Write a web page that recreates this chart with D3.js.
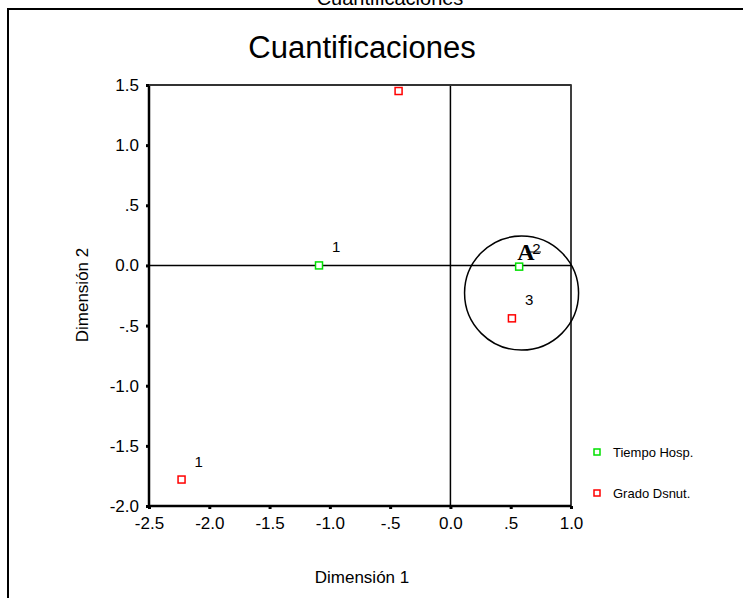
<!DOCTYPE html>
<html>
<head>
<meta charset="utf-8">
<script src="https://cdn.jsdelivr.net/npm/d3@7"></script>
<style>
    body { margin: 0; background: #fff; }
    svg { display: block; font-family: "Liberation Sans", Arial, sans-serif; }
    .axis path { display: none; }
</style>
</head>
<body>
<svg class="chart" width="743" height="598"></svg>
<script>
var dim1Ticks = [-2.5, -2.0, -1.5, -1.0, -0.5, 0.0, 0.5, 1.0];
var dim2Ticks = [-2.0, -1.5, -1.0, -0.5, 0.0, 0.5, 1.0, 1.5];

var seriesNames = ["Tiempo Hosp.", "Grado Dsnut."];
var seriesColors = ["#00e000", "#ff0000"];

// category quantifications, one list per variable
var tiempoHospLabels = ["1", "2"];
var tiempoHospDim1 = [-1.09, 0.57];
var tiempoHospDim2 = [0.0, -0.01];

var gradoDsnutLabels = ["1", "", "3"];
var gradoDsnutDim1 = [-2.23, -0.43, 0.51];
var gradoDsnutDim2 = [-1.78, 1.45, -0.44];

function makePoints(labels, d1, d2, series) {
    return labels.map(function (lab, i) {
        return { label: lab, d1: d1[i], d2: d2[i], series: series };
    });
}

var points = makePoints(tiempoHospLabels, tiempoHospDim1, tiempoHospDim2, 0)
    .concat(makePoints(gradoDsnutLabels, gradoDsnutDim1, gradoDsnutDim2, 1));

var svg = d3.select("svg.chart");

var xScale = d3.scaleLinear().domain([-2.5, 1.0]).range([149, 571]);
var yScale = d3.scaleLinear().domain([-2.0, 1.5]).range([506, 85]);

function fmtTick(d) {
    var s = Math.abs(d).toFixed(1);
    if (d !== 0 && Math.abs(d) < 1) {
        s = s.replace("0.", ".");
    }
    return (d < 0 ? "-" : "") + s;
}

// outer frame
svg.append("rect")
    .attr("x", 8).attr("y", 9)
    .attr("width", 760).attr("height", 620)
    .attr("fill", "none")
    .attr("stroke", "#000")
    .attr("stroke-width", 2);

// clipped page title above frame
svg.append("text")
    .attr("x", 390).attr("y", 5)
    .attr("text-anchor", "middle")
    .attr("font-size", 20)
    .text("Cuantificaciones");

svg.append("text")
    .attr("x", 362).attr("y", 58)
    .attr("text-anchor", "middle")
    .attr("font-size", 31)
    .text("Cuantificaciones");

// reference lines through origin
svg.append("line")
    .attr("x1", xScale(0)).attr("x2", xScale(0))
    .attr("y1", yScale(1.5)).attr("y2", yScale(-2.0))
    .attr("stroke", "#000").attr("stroke-width", 1.5);
svg.append("line")
    .attr("x1", xScale(-2.5)).attr("x2", xScale(1.0))
    .attr("y1", yScale(0)).attr("y2", yScale(0))
    .attr("stroke", "#000").attr("stroke-width", 1.5);

// plot frame
svg.append("rect")
    .attr("x", xScale(-2.5)).attr("y", yScale(1.5))
    .attr("width", xScale(1.0) - xScale(-2.5))
    .attr("height", yScale(-2.0) - yScale(1.5))
    .attr("fill", "none")
    .attr("stroke", "#000")
    .attr("stroke-width", 1.5);
svg.append("line")
    .attr("x1", xScale(-2.5)).attr("x2", xScale(-2.5))
    .attr("y1", yScale(1.5)).attr("y2", yScale(-2.0))
    .attr("stroke", "#000").attr("stroke-width", 2.5);
svg.append("line")
    .attr("x1", xScale(-2.5)).attr("x2", xScale(1.0))
    .attr("y1", yScale(-2.0)).attr("y2", yScale(-2.0))
    .attr("stroke", "#000").attr("stroke-width", 2.5);
svg.append("line")
    .attr("x1", xScale(-2.5)).attr("x2", xScale(1.0))
    .attr("y1", yScale(1.5)).attr("y2", yScale(1.5))
    .attr("stroke", "#333").attr("stroke-width", 2);

var yAxis = svg.append("g")
    .attr("class", "axis")
    .attr("transform", "translate(" + xScale(-2.5) + ",0)")
    .call(d3.axisLeft(yScale).tickValues(dim2Ticks).tickFormat(fmtTick).tickSize(3).tickPadding(7));

var xAxis = svg.append("g")
    .attr("class", "axis")
    .attr("transform", "translate(0," + yScale(-2.0) + ")")
    .call(d3.axisBottom(xScale).tickValues(dim1Ticks).tickFormat(fmtTick).tickSize(3).tickPadding(8));

[yAxis, xAxis].forEach(function (ax) {
    ax.attr("font-family", null).attr("font-size", null);
    ax.selectAll("line").attr("stroke", "#000").attr("stroke-width", 3);
    ax.selectAll("text")
        .attr("font-family", "Liberation Sans, Arial, sans-serif")
        .attr("font-size", 17)
        .attr("fill", "#000");
});

// axis titles
svg.append("text")
    .attr("x", 362).attr("y", 583)
    .attr("text-anchor", "middle")
    .attr("font-size", 17)
    .text("Dimensión 1");
svg.append("text")
    .attr("transform", "translate(88,295) rotate(-90)")
    .attr("text-anchor", "middle")
    .attr("font-size", 17)
    .text("Dimensión 2");

// annotation circle
svg.append("circle")
    .attr("cx", xScale(0.59)).attr("cy", yScale(-0.23))
    .attr("r", 57)
    .attr("fill", "none")
    .attr("stroke", "#000")
    .attr("stroke-width", 1.5);

// category points
svg.selectAll("rect.pt")
    .data(points)
    .enter()
    .append("rect")
    .classed("pt", true)
    .attr("x", function (d) { return xScale(d.d1) - 3.5; })
    .attr("y", function (d) { return yScale(d.d2) - 3.5; })
    .attr("width", 7).attr("height", 7)
    .attr("fill", "#fff")
    .attr("stroke", function (d) { return seriesColors[d.series]; })
    .attr("stroke-width", 1.5);

svg.selectAll("text.pt")
    .data(points)
    .enter()
    .append("text")
    .classed("pt", true)
    .attr("x", function (d) { return xScale(d.d1) + 13; })
    .attr("y", function (d) { return yScale(d.d2) - 13; })
    .attr("font-size", 15)
    .text(function (d) { return d.label; });

// "A" marker
svg.append("text")
    .attr("x", 526).attr("y", 260)
    .attr("text-anchor", "middle")
    .attr("font-family", "Liberation Serif, Times New Roman, serif")
    .attr("font-weight", "bold")
    .attr("font-size", 24)
    .text("A");
svg.append("line")
    .attr("x1", 526).attr("x2", 541)
    .attr("y1", 252).attr("y2", 252)
    .attr("stroke", "#000").attr("stroke-width", 1);

// legend
var legend = svg.selectAll("g.legend")
    .data(seriesNames)
    .enter()
    .append("g")
    .classed("legend", true)
    .attr("transform", function (d, i) { return "translate(597," + (452 + i * 41) + ")"; });
legend.append("rect")
    .attr("x", -3).attr("y", -3)
    .attr("width", 6).attr("height", 6)
    .attr("fill", "#fff")
    .attr("stroke", function (d, i) { return seriesColors[i]; })
    .attr("stroke-width", 1.5);
legend.append("text")
    .attr("x", 16).attr("y", 5)
    .attr("font-size", 13)
    .text(function (d) { return d; });
</script>
</body>
</html>
